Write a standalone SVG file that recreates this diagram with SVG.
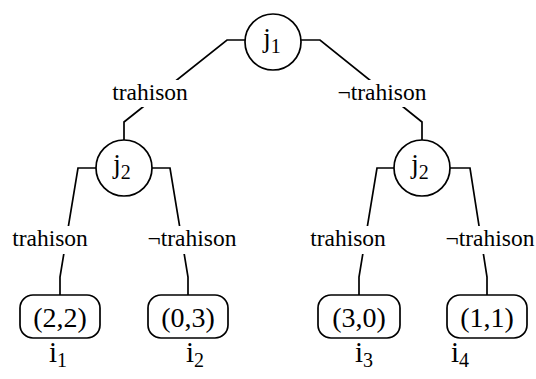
<svg xmlns="http://www.w3.org/2000/svg" width="536" height="379" viewBox="0 0 536 379">
<style>
.e{fill:none;stroke:#000;stroke-width:1.7}
.n{fill:#fff;stroke:#000;stroke-width:1.7}
.lb{fill:#fff;stroke:none}
text{font-family:"Liberation Serif","Times New Roman",serif;fill:#000}
.el{font-size:23.5px;text-anchor:middle}
.jt{font-size:27px;text-anchor:middle}
.lt{font-size:28px;text-anchor:middle}
.it{font-size:29px;text-anchor:middle}
.sub{font-size:20px}
</style>
<rect width="536" height="379" fill="#fff"/>
<g id="connectors">
<polyline class="e" points="245,40 227,40 124,122 124,140"/>
<polyline class="e" points="301,40 320,40 422,122 422,140"/>
<polyline class="e" points="96,168 78,168 60,277 60,295"/>
<polyline class="e" points="152,168 170,168 188,277 188,295"/>
<polyline class="e" points="394,168 377,168 359,277 359,295"/>
<polyline class="e" points="450,168 470,168 487,277 487,295"/>
<rect class="lb" x="108" y="80" width="84" height="27"/>
<text class="el" x="150" y="100">trahison</text>
<rect class="lb" x="334" y="80" width="96" height="27"/>
<text class="el" x="382" y="100">¬trahison</text>
<rect class="lb" x="8" y="226" width="84" height="28"/>
<text class="el" x="50" y="246">trahison</text>
<rect class="lb" x="144" y="226" width="96" height="28"/>
<text class="el" x="192" y="246">¬trahison</text>
<rect class="lb" x="306" y="226" width="84" height="28"/>
<text class="el" x="348" y="246">trahison</text>
<rect class="lb" x="444" y="226" width="92" height="28"/>
<text class="el" x="490" y="246">¬trahison</text>
</g>
<g id="j1">
<circle class="n" cx="273" cy="42" r="28"/>
<text class="jt" x="272" y="47">j<tspan class="sub" dy="6">1</tspan></text>
</g>
<g id="j2a">
<circle class="n" cx="124" cy="168" r="28"/>
<text class="jt" x="122" y="173">j<tspan class="sub" dy="6">2</tspan></text>
</g>
<g id="j2b">
<circle class="n" cx="422" cy="168" r="28"/>
<text class="jt" x="420" y="173">j<tspan class="sub" dy="6">2</tspan></text>
</g>
<g id="leaf1">
<rect class="n" x="20" y="295" width="80" height="43" rx="13"/>
<text class="lt" x="60" y="327">(2,2)</text>
<text class="it" x="58" y="362">i<tspan class="sub" dy="5">1</tspan></text>
</g>
<g id="leaf2">
<rect class="n" x="148" y="295" width="80" height="43" rx="13"/>
<text class="lt" x="188" y="327">(0,3)</text>
<text class="it" x="195" y="362">i<tspan class="sub" dy="5">2</tspan></text>
</g>
<g id="leaf3">
<rect class="n" x="318" y="295" width="82" height="43" rx="13"/>
<text class="lt" x="359" y="327">(3,0)</text>
<text class="it" x="364" y="362">i<tspan class="sub" dy="5">3</tspan></text>
</g>
<g id="leaf4">
<rect class="n" x="447" y="295" width="80" height="43" rx="13"/>
<text class="lt" x="487" y="327">(1,1)</text>
<text class="it" x="460" y="362">i<tspan class="sub" dy="5">4</tspan></text>
</g>
</svg>
